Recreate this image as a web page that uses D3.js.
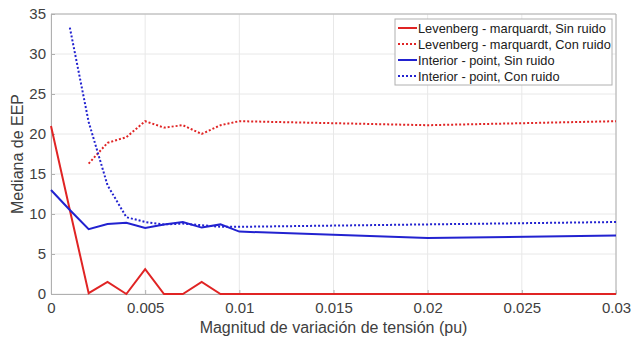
<!DOCTYPE html>
<html>
<head>
<meta charset="utf-8">
<script src="https://cdn.jsdelivr.net/npm/d3@7"></script>
<style>
  body { margin: 0; background: #fff; }
  text { font-family: "Liberation Sans", Arial, sans-serif; }
</style>
</head>
<body>
<svg width="631" height="338"></svg>
<script>
// data
var xTicks = [0, 0.005, 0.01, 0.015, 0.02, 0.025, 0.03];
var yTicks = [0, 5, 10, 15, 20, 25, 30, 35];

var lmSinX = [0, 0.001, 0.002, 0.003, 0.004, 0.005, 0.006, 0.007, 0.008, 0.009, 0.01, 0.02, 0.03];
var lmSinY = [21, 10.5, 0.1, 1.5, 0, 3.1, 0, 0, 1.5, 0, 0, 0, 0];

var lmConX = [0.002, 0.003, 0.004, 0.005, 0.006, 0.007, 0.008, 0.009, 0.01, 0.02, 0.03];
var lmConY = [16.3, 18.9, 19.6, 21.6, 20.8, 21.1, 20.0, 21.1, 21.6, 21.1, 21.6];

var ipSinX = [0, 0.001, 0.002, 0.003, 0.004, 0.005, 0.006, 0.007, 0.008, 0.009, 0.01, 0.02, 0.03];
var ipSinY = [13, 10.5, 8.1, 8.75, 8.9, 8.25, 8.7, 9.0, 8.3, 8.7, 7.8, 7.0, 7.3];

var ipConX = [0.001, 0.002, 0.003, 0.004, 0.005, 0.006, 0.007, 0.008, 0.009, 0.01, 0.02, 0.03];
var ipConY = [33.3, 21.5, 13.6, 9.6, 9.0, 8.7, 8.8, 8.6, 8.4, 8.4, 8.7, 9.0];

var seriesNames = ["Levenberg - marquardt, Sin ruido", "Levenberg - marquardt, Con ruido",
                   "Interior - point, Sin ruido", "Interior - point, Con ruido"];

var red = "#e02424", blue = "#2222d0";
var series = [
  {name: seriesNames[0], xs: lmSinX, ys: lmSinY, color: red, dash: null},
  {name: seriesNames[1], xs: lmConX, ys: lmConY, color: red, dash: "2,2"},
  {name: seriesNames[2], xs: ipSinX, ys: ipSinY, color: blue, dash: null},
  {name: seriesNames[3], xs: ipConX, ys: ipConY, color: blue, dash: "2,2"}
];

var svg = d3.select("svg");
var pLeft = 51, pRight = 616, pTop = 14, pBottom = 294;

var x = d3.scaleLinear().domain([0, 0.03]).range([pLeft, pRight]);
var y = d3.scaleLinear().domain([0, 35]).range([pBottom, pTop]);

// grid
var grid = svg.append("g");
grid.selectAll(".gx").data(xTicks).enter().append("line")
  .attr("x1", d => x(d)).attr("x2", d => x(d))
  .attr("y1", pTop).attr("y2", pBottom)
  .attr("stroke", "#e8e8e8").attr("stroke-width", 1);
grid.selectAll(".gy").data(yTicks).enter().append("line")
  .attr("x1", pLeft).attr("x2", pRight)
  .attr("y1", d => y(d)).attr("y2", d => y(d))
  .attr("stroke", "#e8e8e8").attr("stroke-width", 1);

// axes
var xAxis = svg.append("g").attr("transform", "translate(0," + pBottom + ")")
  .call(d3.axisBottom(x).tickValues(xTicks).tickSizeInner(-4).tickSizeOuter(0)
    .tickFormat(d => d === 0 ? "0" : String(+d.toFixed(3))));
var yAxis = svg.append("g").attr("transform", "translate(" + pLeft + ",0)")
  .call(d3.axisLeft(y).tickValues(yTicks).tickSizeInner(-4).tickSizeOuter(0));
[xAxis, yAxis].forEach(function(a) {
  a.select(".domain").attr("stroke", "#b0b0b0");
  a.selectAll(".tick line").attr("stroke", "#b0b0b0");
  a.selectAll(".tick text").attr("fill", "#404040").attr("font-size", "15px")
    .style("font-family", "'Liberation Sans', Arial, sans-serif");
});
xAxis.selectAll(".tick text").attr("dy", "1.05em");
yAxis.selectAll(".tick text").attr("dx", "-2");

// top/right box
svg.append("line").attr("x1", pLeft).attr("x2", pRight).attr("y1", pTop).attr("y2", pTop).attr("stroke", "#b0b0b0");
svg.append("line").attr("x1", pRight).attr("x2", pRight).attr("y1", pTop).attr("y2", pBottom).attr("stroke", "#b0b0b0");

// lines
var line = d3.line().x(d => x(d[0])).y(d => y(d[1]));
series.forEach(function(s) {
  svg.append("path")
    .datum(d3.zip(s.xs, s.ys))
    .attr("d", line)
    .attr("fill", "none")
    .attr("stroke", s.color)
    .attr("stroke-width", 2)
    .attr("stroke-dasharray", s.dash);
});

// labels
svg.append("text").attr("x", (pLeft + pRight) / 2).attr("y", 333)
  .attr("text-anchor", "middle").attr("font-size", "16px").attr("fill", "#404040")
  .text("Magnitud de variación de tensión (pu)");
svg.append("text").attr("transform", "translate(23," + ((pTop + pBottom) / 2) + ") rotate(-90)")
  .attr("text-anchor", "middle").attr("font-size", "16px").attr("fill", "#404040")
  .text("Mediana de EEP");

// legend
var lg = svg.append("g").attr("transform", "translate(395,19)");
lg.append("rect").attr("width", 217).attr("height", 66)
  .attr("fill", "#fff").attr("stroke", "#b0b0b0");
series.forEach(function(s, i) {
  var yy = 9 + i * 16;
  lg.append("line").attr("x1", 3).attr("x2", 22).attr("y1", yy).attr("y2", yy)
    .attr("stroke", s.color).attr("stroke-width", 2).attr("stroke-dasharray", s.dash);
  lg.append("text").attr("x", 23).attr("y", yy + 4.5)
    .attr("font-size", "12.8px").attr("fill", "#202020").text(s.name);
});
</script>
</body>
</html>
